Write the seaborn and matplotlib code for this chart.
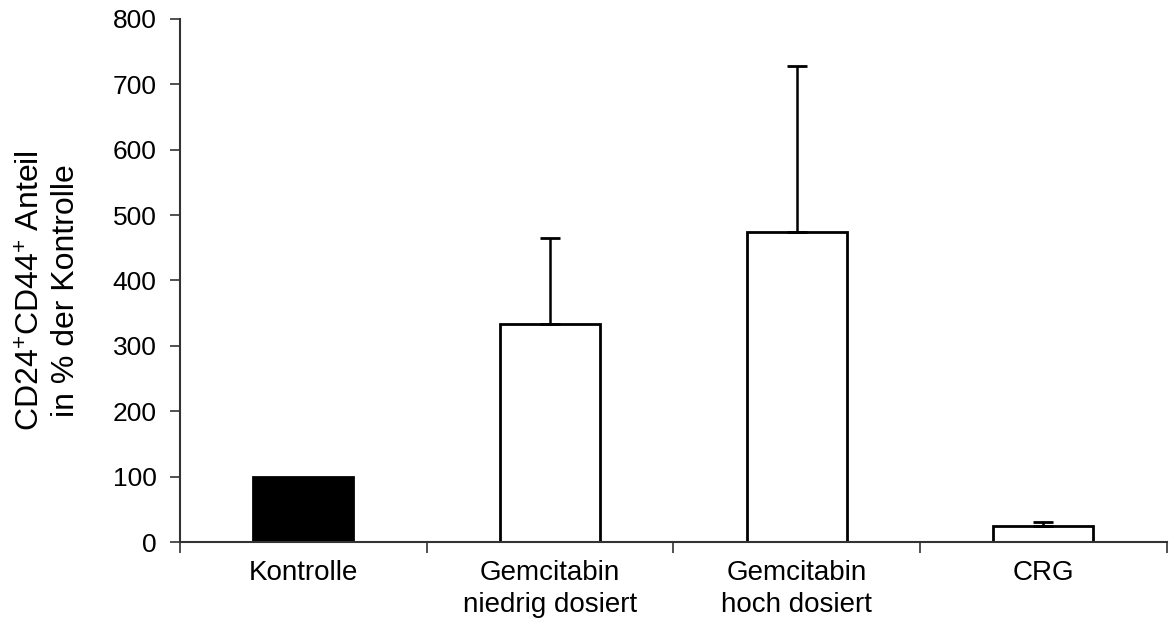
import matplotlib
matplotlib.use("Agg")
import matplotlib.pyplot as plt
import numpy as np
import pandas as pd
import seaborn as sns

categories = ["Kontrolle", "Gemcitabin\nniedrig dosiert", "Gemcitabin\nhoch dosiert", "CRG"]
values = [100, 333, 474, 24]
errors = [0, 132, 254, 6]
bar_colors = ["black", "white", "white", "white"]

sns.set_style("white")
plt.rcParams["font.family"] = ["Liberation Sans", "DejaVu Sans"]
plt.rcParams["mathtext.fontset"] = "custom"
plt.rcParams["mathtext.rm"] = "Liberation Sans"
plt.rcParams["mathtext.it"] = "Liberation Sans"
plt.rcParams["text.color"] = "black"
plt.rcParams["axes.labelcolor"] = "black"
plt.rcParams["xtick.labelcolor"] = "black"
plt.rcParams["ytick.labelcolor"] = "black"

df = pd.DataFrame({"group": categories, "value": values})

fig = plt.figure(figsize=(11.69, 6.31), dpi=100)
ax = fig.add_axes([0.154, 0.141, 0.844, 0.829])

sns.barplot(data=df, x="group", y="value", hue="group", palette=bar_colors,
            edgecolor="black", linewidth=2, width=0.405, legend=False, ax=ax,
            errorbar=None)

x = np.arange(len(categories))
has_err = np.array(errors) > 0
ax.errorbar(x[has_err], np.array(values)[has_err],
            yerr=[np.zeros(has_err.sum()), np.array(errors)[has_err]],
            fmt="none", ecolor="black", elinewidth=1.8, capsize=7, capthick=2)

ax.set_xlim(-0.5, 3.5)
ax.set_ylim(0, 800)
ax.set_yticks(range(0, 801, 100))
ax.tick_params(axis="y", labelsize=19, length=7, width=1.2, direction="out",
               left=True, color="#333333", labelcolor="black", pad=10)

# category boundaries as major ticks, labels on minor ticks
ax.set_xticks(np.arange(-0.5, 3.6, 1.0))
ax.set_xticklabels([])
ax.set_xticks(x, minor=True)
ax.set_xticklabels(categories, minor=True, fontsize=20, linespacing=1.3)
ax.tick_params(axis="x", which="major", length=8, width=1.2, direction="out",
               bottom=True, color="#333333")
ax.tick_params(axis="x", which="minor", length=0, pad=13, labelcolor="black")

ax.set_xlabel("")
ax.set_ylabel("CD24$^{+}$CD44$^{+}$ Anteil\nin % der Kontrolle", fontsize=23,
              linespacing=1.2, color="black")
ax.yaxis.set_label_coords(-0.1, 0.48)

for side in ["top", "right"]:
    ax.spines[side].set_visible(False)
for side in ["left", "bottom"]:
    ax.spines[side].set_color("#333333")
    ax.spines[side].set_linewidth(1.5)

fig.savefig("out.png", dpi=100, facecolor="white")
